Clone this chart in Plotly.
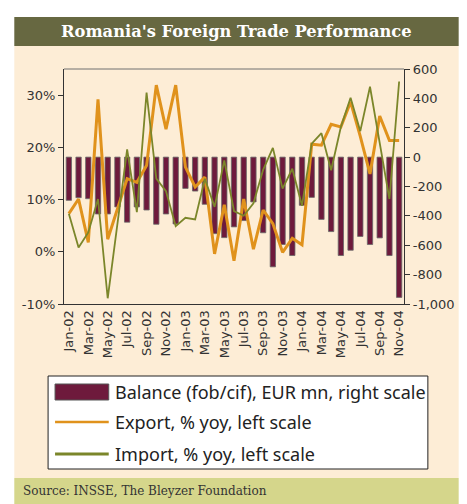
import plotly.graph_objects as go

months = ["Jan-02", "Feb-02", "Mar-02", "Apr-02", "May-02", "Jun-02", "Jul-02", "Aug-02", "Sep-02", "Oct-02", "Nov-02", "Dec-02",
          "Jan-03", "Feb-03", "Mar-03", "Apr-03", "May-03", "Jun-03", "Jul-03", "Aug-03", "Sep-03", "Oct-03", "Nov-03", "Dec-03",
          "Jan-04", "Feb-04", "Mar-04", "Apr-04", "May-04", "Jun-04", "Jul-04", "Aug-04", "Sep-04", "Oct-04", "Nov-04"]

balance = [-294, -276, -283, -387, -387, -339, -443, -339, -360, -457, -387, -455,
           -213, -231, -321, -521, -548, -475, -432, -305, -515, -747, -595, -670,
           -328, -274, -424, -507, -670, -634, -540, -595, -550, -670, -955]

export_yoy = [7.3, 10.1, 1.8, 29.2, 2.4, 8.2, 14.0, 13.3, 16.5, 31.9, 23.5, 31.9,
              16.2, 12.4, 14.3, -0.4, 9.0, -1.7, 10.1, 0.5, 8.0, 5.4, -0.1, 2.6,
              1.35, 20.6, 20.4, 24.4, 23.9, 28.7, 22.1, 14.9, 26.0, 21.3, 21.3]

import_yoy = [7.3, 0.8, 3.7, 10.1, -8.9, 5.5, 19.6, 7.6, 30.5, 14.0, 11.6, 4.9,
              6.5, 6.2, 14.0, 8.6, 17.5, 7.8, 6.9, 9.3, 15.7, 19.9, 12.1, 15.9,
              8.8, 20.7, 22.7, 15.6, 23.9, 29.5, 23.1, 31.6, 21.0, 10.1, 32.6]

left_ticks = [-10, 0, 10, 20, 30]
left_labels = ["-10%", "0%", "10%", "20%", "30%"]
right_ticks = [-1000, -800, -600, -400, -200, 0, 200, 400, 600]
right_labels = ["-1,000", "-800", "-600", "-400", "-200", "0", "200", "400", "600"]
x_labels = months[::2]

MAROON = "#6e1a3c"
ORANGE = "#e0921c"
OLIVE = "#7b862a"
CREAM = "#fdedd6"

L, R, T, B = 64, 406, 69, 304
W, H = R - L, B - T


def px(x):
    return (x - L) / W


def py(y):
    return (B - y) / H


fig = go.Figure()
fig.add_trace(go.Bar(x=months, y=balance, yaxis="y", marker=dict(color=MAROON, line=dict(color="#6a6a6a", width=0.8)),
                     width=0.55, name="Balance (fob/cif), EUR mn, right scale"))
fig.add_trace(go.Scatter(x=months, y=export_yoy, yaxis="y2", mode="lines", line=dict(color=ORANGE, width=3),
                         name="Export, % yoy, left scale"))
fig.add_trace(go.Scatter(x=months, y=import_yoy, yaxis="y2", mode="lines", line=dict(color=OLIVE, width=1.8),
                         name="Import, % yoy, left scale"))

tickfont = dict(family="DejaVu Sans", size=13, color="#333333")

shapes = [
    dict(type="rect", xref="paper", yref="paper", x0=px(14), x1=px(461), y0=py(478), y1=py(46),
         fillcolor=CREAM, line=dict(width=0), layer="below"),
    dict(type="rect", xref="paper", yref="paper", x0=px(14), x1=px(461), y0=py(46), y1=py(17),
         fillcolor="#676841", line=dict(width=0), layer="below"),
    dict(type="rect", xref="paper", yref="paper", x0=px(14), x1=px(461), y0=py(504), y1=py(478),
         fillcolor="#d5d68b", line=dict(width=0), layer="below"),
    dict(type="line", xref="paper", yref="paper", x0=0, x1=1, y0=1, y1=1,
         line=dict(color="#707070", width=1)),
    dict(type="rect", xref="paper", yref="paper", x0=px(48), x1=px(430), y0=py(469), y1=py(376),
         fillcolor="white", line=dict(color="#222222", width=1)),
    dict(type="rect", xref="paper", yref="paper", x0=px(55), x1=px(109), y0=py(400), y1=py(384),
         fillcolor=MAROON, line=dict(color="#555555", width=1)),
    dict(type="line", xref="paper", yref="paper", x0=px(55), x1=px(109), y0=py(422), y1=py(422),
         line=dict(color=ORANGE, width=2.5)),
    dict(type="line", xref="paper", yref="paper", x0=px(55), x1=px(109), y0=py(454), y1=py(454),
         line=dict(color=OLIVE, width=3)),
]

legend_font = dict(family="Noto Sans", size=18, color="#222222")
annotations = [
    dict(text="<b>Romania's Foreign Trade Performance</b>", xref="paper", yref="paper", x=px(237.5), y=py(31.5),
         xanchor="center", yanchor="middle", showarrow=False,
         font=dict(family="DejaVu Serif", size=16.3, color="white")),
    dict(text="Balance (fob/cif), EUR mn, right scale", xref="paper", yref="paper", x=px(113), y=py(392),
         xanchor="left", yanchor="middle", showarrow=False, font=legend_font),
    dict(text="Export, % yoy, left scale", xref="paper", yref="paper", x=px(113), y=py(422),
         xanchor="left", yanchor="middle", showarrow=False, font=legend_font),
    dict(text="Import, % yoy, left scale", xref="paper", yref="paper", x=px(113), y=py(454),
         xanchor="left", yanchor="middle", showarrow=False, font=legend_font),
    dict(text="Source: INSSE, The Bleyzer Foundation", xref="paper", yref="paper", x=px(21), y=py(491),
         xanchor="left", yanchor="middle", showarrow=False,
         font=dict(family="DejaVu Serif", size=12, color="#333333")),
]

fig.update_layout(
    width=467, height=504,
    margin=dict(l=L, r=467 - R, t=T, b=504 - B),
    paper_bgcolor="white", plot_bgcolor=CREAM,
    showlegend=False,
    xaxis=dict(type="category", categoryorder="array", categoryarray=months,
               range=[-0.5, len(months) - 0.5],
               tickmode="array", tickvals=x_labels, ticktext=x_labels, tickangle=-90,
               tickfont=tickfont, showline=True, linecolor="#333333", linewidth=1.2,
               ticks="", showgrid=False, zeroline=False),
    yaxis=dict(side="right", range=[-1000, 600], tickmode="array", tickvals=right_ticks, ticktext=right_labels,
               tickfont=tickfont, showline=True, linecolor="#333333", linewidth=1.2,
               ticks="outside", ticklen=5, tickcolor="#333333", showgrid=False, zeroline=False),
    yaxis2=dict(side="left", overlaying="y", range=[-10, 35], tickmode="array", tickvals=left_ticks,
                ticktext=left_labels, tickfont=tickfont, showline=True, linecolor="#333333", linewidth=1.2,
                ticks="outside", ticklen=5, tickcolor="#333333", showgrid=False, zeroline=False),
    shapes=shapes,
    annotations=annotations,
)

fig.write_html("out.html", config={"displayModeBar": False},
               post_script="document.body.style.margin='0';document.body.style.overflow='hidden';")
